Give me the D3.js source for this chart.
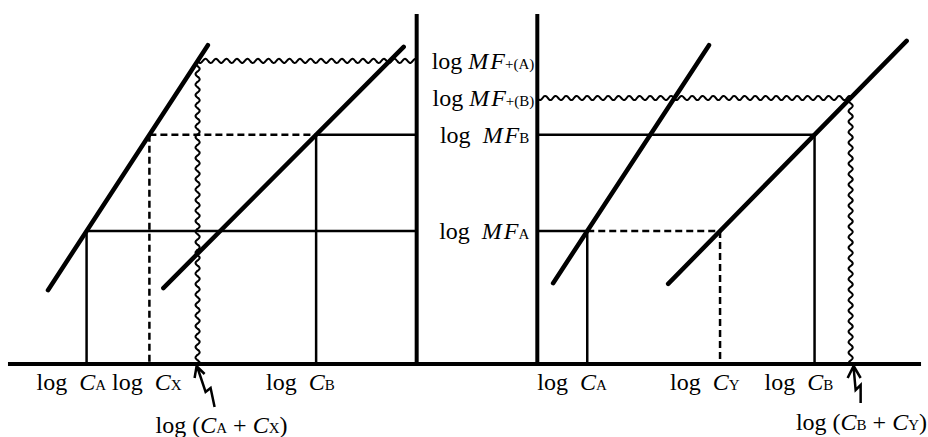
<!DOCTYPE html>
<html>
<head>
<meta charset="utf-8">
<script src="https://cdn.jsdelivr.net/npm/d3@7"></script>
<style>
body { margin: 0; background: #fff; }
text { font-family: "Liberation Serif", "DejaVu Serif", serif; font-size: 24px; fill: #000; }
</style>
</head>
<body>
<svg></svg>
<script>
var width = 928,
    height = 437;

// log MF levels (y units 0..10)
var levelNames = ["+(A)", "+(B)", "B", "A"];
var levelValues = [8.66, 7.6, 6.55, 3.8];

// panels: axis position and calibration lines a / b as [x0, y0, x1, y1] (x units 0..100)
var panelNames = ["L", "R"];
var panelAxis = [44.9, 57.9];
var panelLineA = [[5.17, 2.11, 22.4, 9.11], [59.6, 2.31, 76.4, 9.11]];
var panelLineB = [[17.6, 2.17, 43.5, 9.06], [72.0, 2.29, 97.7, 9.23]];
var baseExtent = [0.86, 99.25];
var axisTop = 10;

// guides: panel, level, from, to, drop at, style
var guides = [
  ["L", "A", "a", "axis", "a", "solid"],
  ["L", "B", "b", "axis", "b", "solid"],
  ["L", "B", "a", "b", "a", "dash"],
  ["L", "+(A)", "a", "axis", "a", "wave"],
  ["R", "A", "axis", "a", "a", "solid"],
  ["R", "A", "a", "b", "b", "dash"],
  ["R", "B", "axis", "b", "b", "solid"],
  ["R", "+(B)", "axis", "b", "b", "wave"]
];

// x labels: panel, line, level, subscript
var xLabels = [
  ["L", "a", "A", "A"], ["L", "a", "B", "X"], ["L", "b", "B", "B"],
  ["R", "a", "A", "A"], ["R", "b", "A", "Y"], ["R", "b", "B", "B"]
];
// sum labels: panel, line, level, first, second
var sumLabels = [["L", "a", "+(A)", "A", "X"], ["R", "b", "+(B)", "B", "Y"]];

var x = d3.scaleLinear().domain([0, 100]).range([0, width]);
var y = d3.scaleLinear().domain([0, 10]).range([364, 14]);

var svg = d3.select("svg")
    .attr("width", width)
    .attr("height", height);

function lvl(name) { return levelValues[levelNames.indexOf(name)]; }
function pIndex(p) { return panelNames.indexOf(p); }
function lineOf(p, l) { return l == "a" ? panelLineA[pIndex(p)] : panelLineB[pIndex(p)]; }
// x where a calibration line reaches level v
function cross(p, l, v) {
  var s = lineOf(p, l);
  var t = (v - s[1]) / (s[3] - s[1]);
  return s[0] + t * (s[2] - s[0]);
}
function xAt(p, what, v) { return what == "axis" ? panelAxis[pIndex(p)] : cross(p, what, v); }

function wave(x0, y0, x1, y1) {
  var len = Math.hypot(x1 - x0, y1 - y0), pts = [];
  var ux = (x1 - x0) / len, uy = (y1 - y0) / len;
  for (var s = 0; s <= len; s += 1) {
    var o = 2.2 * Math.sin(2 * Math.PI * s / 10.5);
    pts.push([x0 + ux * s - uy * o, y0 + uy * s + ux * o]);
  }
  return d3.line().curve(d3.curveBasis)(pts);
}

var g = svg.append("g");

// guides
guides.forEach(function(d) {
  var v = lvl(d[1]);
  var xa = x(xAt(d[0], d[2], v)), xb = x(xAt(d[0], d[3], v)), xd = x(cross(d[0], d[4], v));
  var yv = y(v), y0 = y(0);
  if (d[5] == "wave") {
    g.append("path").attr("d", wave(xa, yv, xb, yv)).attr("fill", "none").attr("stroke", "#000").attr("stroke-width", 2);
    g.append("path").attr("d", wave(xd, yv, xd, y0)).attr("fill", "none").attr("stroke", "#000").attr("stroke-width", 2);
  } else {
    var dash = d[5] == "dash" ? "7,4" : null;
    g.append("line").attr("x1", xa).attr("x2", xb).attr("y1", yv).attr("y2", yv)
      .attr("stroke", "#000").attr("stroke-width", 2.5).attr("stroke-dasharray", dash);
    g.append("line").attr("x1", xd).attr("x2", xd).attr("y1", yv).attr("y2", y0)
      .attr("stroke", "#000").attr("stroke-width", 2.5).attr("stroke-dasharray", dash);
  }
});

// calibration lines
g.selectAll(".cal")
  .data(panelLineA.concat(panelLineB))
  .enter().append("line")
    .attr("class", "cal")
    .attr("x1", function(d) { return x(d[0]); })
    .attr("y1", function(d) { return y(d[1]); })
    .attr("x2", function(d) { return x(d[2]); })
    .attr("y2", function(d) { return y(d[3]); })
    .attr("stroke", "#000").attr("stroke-width", 4.5).attr("stroke-linecap", "round");

// axes
g.append("line").attr("x1", x(baseExtent[0])).attr("x2", x(baseExtent[1]))
  .attr("y1", y(0)).attr("y2", y(0)).attr("stroke", "#000").attr("stroke-width", 4);
g.selectAll(".ax")
  .data(panelAxis)
  .enter().append("line")
    .attr("x1", function(d) { return x(d); }).attr("x2", function(d) { return x(d); })
    .attr("y1", y(axisTop)).attr("y2", y(0) + 2)
    .attr("stroke", "#000").attr("stroke-width", 4);

function label(px, py, parts, anchor) {
  var t = g.append("text").attr("x", px).attr("y", py)
    .attr("text-anchor", anchor || "start").attr("xml:space", "preserve");
  parts.forEach(function(p) {
    var s = t.append("tspan").text(p[0]);
    if (p[1] == "i") s.style("font-style", "italic");
    if (p[1] == "s") s.style("font-size", "15px");
  });
  return t;
}

// level labels, right aligned against the right axis
levelNames.forEach(function(n, i) {
  var plus = n.charAt(0) == "+";
  label(x(panelAxis[1]) - (plus ? 3 : 8), y(levelValues[i]) + 8,
    [[plus ? "log " : "log  ", "n"], ["M\u200aF", "i"], [n, "s"]], "end");
});

// x labels, kept apart when they crowd each other
var prevEnd = -Infinity;
xLabels.forEach(function(d) {
  var xv = x(cross(d[0], d[1], lvl(d[2])));
  var t = label(0, 390, [["log  ", "n"], ["C", "i"], [d[3], "s"]], "start");
  var w = t.node().getComputedTextLength();
  var start = Math.max(xv - 50, prevEnd + 6);
  t.attr("x", start);
  prevEnd = start + w;
});

// sum labels + arrows
sumLabels.forEach(function(d, i) {
  var xv = x(cross(d[0], d[1], lvl(d[2])));
  var yb = y(0);
  var arrow = i == 0
    ? "M" + (xv + 17) + "," + (yb + 43) + " L" + (xv + 13) + "," + (yb + 24) + " L" + (xv + 8) + "," + (yb + 28) + " L" + (xv) + "," + (yb + 4)
      + " M" + (xv - 3) + "," + (yb + 14) + " L" + (xv - 1) + "," + (yb + 2) + " L" + (xv + 7) + "," + (yb + 10)
    : "M" + (xv + 10) + "," + (yb + 39) + " L" + (xv + 10) + "," + (yb + 21) + " L" + (xv + 5) + "," + (yb + 26) + " L" + (xv + 3) + "," + (yb + 4)
      + " M" + (xv - 3) + "," + (yb + 14) + " L" + (xv + 3) + "," + (yb + 2) + " L" + (xv + 10) + "," + (yb + 14);
  g.append("path").attr("d", arrow).attr("fill", "none").attr("stroke", "#000").attr("stroke-width", 2.5);
  var parts = [["log (", "n"], ["C", "i"], [d[3], "s"], [" + ", "n"], ["C", "i"], [d[4], "s"], [")", "n"]];
  if (i == 0) label(xv - 42, 433, parts, "start");
  else label(width - 1, 430, parts, "end");
});
</script>
</body>
</html>
